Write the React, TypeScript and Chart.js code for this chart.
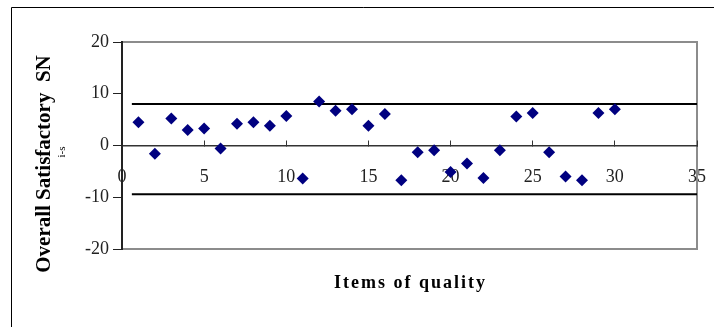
import React, { useEffect, useRef } from "react";
import { Chart, registerables } from "chart.js";

Chart.register(...registerables);

// ---- data ----
const itemNumbers = [1, 2, 3, 4, 5, 6, 7, 8, 9, 10, 11, 12, 13, 14, 15, 16, 17, 18, 19, 20, 21, 22, 23, 24, 25, 26, 27, 28, 29, 30];
const snValues = [4.5, -1.6, 5.2, 3.0, 3.3, -0.6, 4.2, 4.5, 3.8, 5.7, -6.4, 8.5, 6.7, 7.0, 3.8, 6.1, -6.7, -1.3, -0.9, -5.1, -3.5, -6.3, -0.9, 5.6, 6.3, -1.3, -6.0, -6.7, 6.3, 7.0];
const xTicks = [0, 5, 10, 15, 20, 25, 30, 35];
const yTicks = [-20, -10, 0, 10, 20];
const upperLimit = 8.0;
const lowerLimit = -9.4;
const limitSpan = [0.6, 35];
const xTitle = "Items of quality";
const yTitle = "Overall Satisfactory  SN";
const ySubscript = "i-s";

const tickFont = { family: "'Liberation Serif', serif", size: 18 };

export default function App() {
  const ref = useRef<HTMLCanvasElement | null>(null);

  useEffect(() => {
    const canvas = ref.current;
    if (!canvas) return;

    const decor = {
      id: "decor",
      beforeDraw(chart: any) {
        const { ctx, chartArea } = chart;
        ctx.save();
        ctx.fillStyle = "#ffffff";
        ctx.fillRect(0, 0, chart.width, chart.height);
        // outer frame
        ctx.strokeStyle = "#000000";
        ctx.lineWidth = 1;
        ctx.beginPath();
        ctx.moveTo(11.5, chart.height + 2);
        ctx.lineTo(11.5, 7.5);
        ctx.lineTo(chart.width + 2, 7.5);
        ctx.stroke();
        // plot area border
        ctx.strokeStyle = "#8c8c8c";
        ctx.lineWidth = 2;
        ctx.strokeRect(chartArea.left, chartArea.top, chartArea.right - chartArea.left, chartArea.bottom - chartArea.top);
        ctx.restore();
      },
      afterDraw(chart: any) {
        const { ctx, chartArea } = chart;
        ctx.save();
        ctx.fillStyle = "#000000";
        // x title
        ctx.font = "bold 18px 'Liberation Serif', serif";
        (ctx as any).letterSpacing = "2px";
        ctx.textAlign = "center";
        ctx.textBaseline = "middle";
        ctx.fillText(xTitle, (chartArea.left + chartArea.right) / 2 + 1, 283);
        (ctx as any).letterSpacing = "0px";
        // y title (rotated)
        ctx.save();
        ctx.translate(45, 164);
        ctx.rotate(-Math.PI / 2);
        ctx.font = "bold 21px 'Liberation Serif', serif";
        ctx.textAlign = "center";
        ctx.textBaseline = "middle";
        ctx.fillText(yTitle, 0, 0);
        ctx.restore();
        // subscript
        ctx.save();
        ctx.translate(62, 152);
        ctx.rotate(-Math.PI / 2);
        ctx.font = "11px 'Liberation Serif', serif";
        ctx.textAlign = "center";
        ctx.textBaseline = "middle";
        ctx.fillText(ySubscript, 0, 0);
        ctx.restore();
        ctx.restore();
      },
    };

    const chart = new Chart(canvas, {
      type: "scatter",
      data: {
        datasets: [
          {
            label: "SN",
            data: itemNumbers.map((x, i) => ({ x, y: snValues[i] })),
            pointStyle: "rectRot",
            pointRadius: 6,
            backgroundColor: "#000080",
            borderColor: "#000080",
            borderWidth: 0,
            order: 0,
          },
          {
            type: "line",
            label: "upper",
            data: limitSpan.map((x) => ({ x, y: upperLimit })),
            borderColor: "#000000",
            borderWidth: 2,
            pointRadius: 0,
            showLine: true,
            order: 1,
          } as any,
          {
            type: "line",
            label: "lower",
            data: limitSpan.map((x) => ({ x, y: lowerLimit })),
            borderColor: "#000000",
            borderWidth: 2,
            pointRadius: 0,
            showLine: true,
            order: 1,
          } as any,
        ],
      },
      options: {
        responsive: false,
        animation: false,
        devicePixelRatio: 1,
        layout: { padding: { left: 0, top: 42, right: 17, bottom: 78 } },
        plugins: { legend: { display: false }, tooltip: { enabled: false } },
        scales: {
          x: {
            type: "linear",
            min: xTicks[0],
            max: xTicks[xTicks.length - 1],
            position: { y: 0 } as any,
            afterBuildTicks: (scale: any) => {
              scale.ticks = xTicks.map((v) => ({ value: v }));
            },
            afterFit: (scale: any) => {
              scale.paddingLeft = 0;
              scale.paddingRight = 0;
            },
            ticks: { font: tickFont, color: "#222222", padding: 27, maxRotation: 0 },
            grid: { drawOnChartArea: false, drawTicks: true, tickLength: -6, color: "#333333", lineWidth: 1 },
            border: { display: true, color: "#333333", width: 1.5 },
          },
          y: {
            type: "linear",
            min: yTicks[0],
            max: yTicks[yTicks.length - 1],
            position: "left",
            afterBuildTicks: (scale: any) => {
              scale.ticks = yTicks.map((v) => ({ value: v }));
            },
            afterFit: (scale: any) => {
              scale.width = 122;
            },
            ticks: { font: tickFont, color: "#222222", padding: 4 },
            grid: { drawOnChartArea: false, drawTicks: true, tickLength: 9, color: "#222222", lineWidth: 1 },
            border: { display: true, color: "#222222", width: 2 },
          },
        },
      },
      plugins: [decor],
    });

    return () => chart.destroy();
  }, []);

  return (
    <div style={{ position: "absolute", left: 0, top: 0, width: 714, height: 327 }}>
      <canvas ref={ref} width={714} height={327} style={{ width: 714, height: 327, display: "block" }} />
    </div>
  );
}
